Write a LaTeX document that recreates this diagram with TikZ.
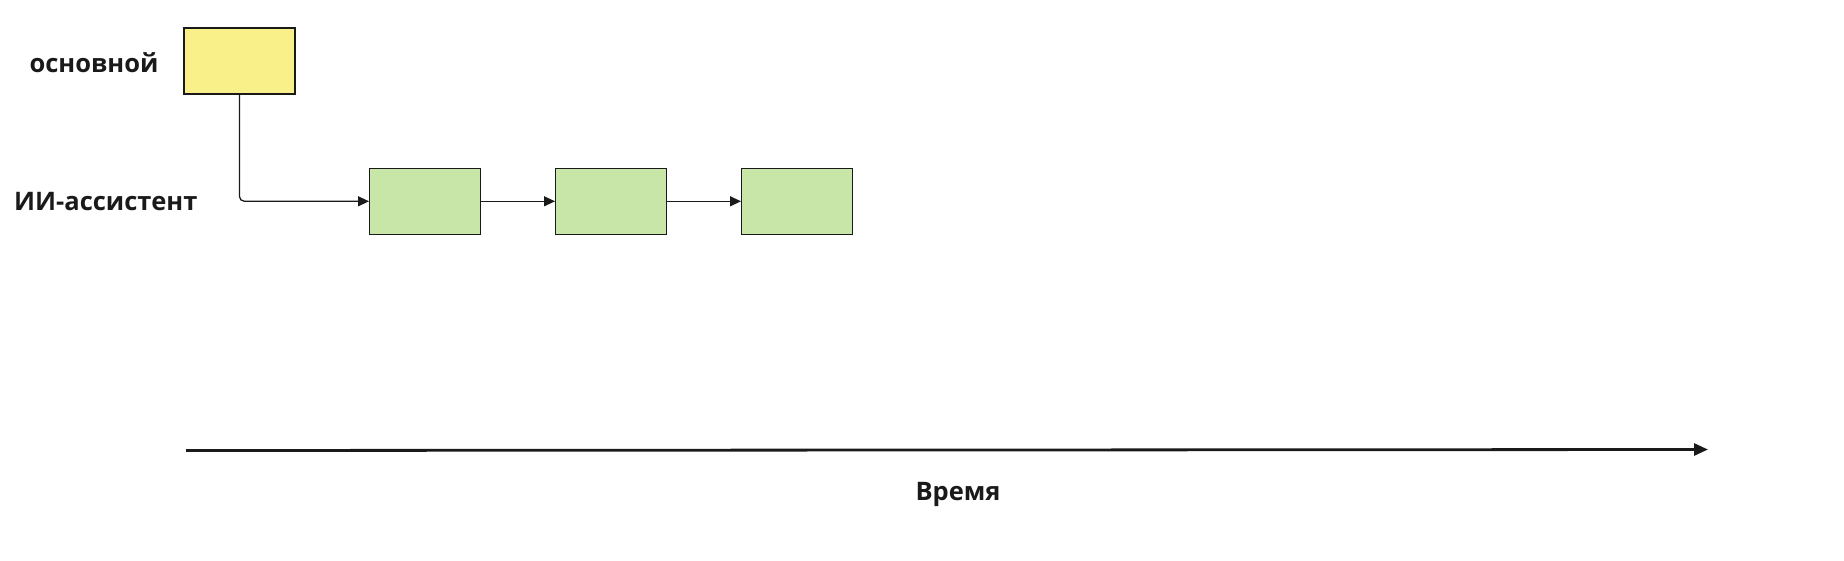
\documentclass[tikz,border=0pt]{standalone}
\usepackage{fontspec}
\setmainfont{Open Sans}
\usetikzlibrary{arrows.meta}
\definecolor{yel}{HTML}{FAF08A}
\definecolor{grn}{HTML}{C8E6A8}
\definecolor{ink}{HTML}{1A1A1A}
\tikzset{
  box/.style={draw=ink, line width=1.2pt, minimum width=111pt, minimum height=66pt, inner sep=0pt, anchor=north west},
  lbl/.style={font=\bfseries\fontsize{25.5}{30}\selectfont, text=ink, inner sep=0pt},
  conn/.style={draw=ink, line width=1.3pt, -{Triangle[length=11pt,width=10pt]}},
  axis/.style={draw=ink, line width=2.8pt, -{Triangle[length=14pt,width=12pt]}}
}
\begin{document}
\begin{tikzpicture}[x=1pt,y=-1pt]
\useasboundingbox (0,0) rectangle (1844,560);
\node[box, fill=yel] (main) at (183.3,27.3) {};
\node[box, fill=grn] (g1) at (369,167.7) {};
\node[box, fill=grn] (g2) at (555,167.7) {};
\node[box, fill=grn] (g3) at (741,167.7) {};
\node[lbl, anchor=west] (lmain) at (29.4,62.5) {основной};
\node[lbl, anchor=west] (lai) at (14,202) {ИИ-ассистент};
\draw[conn, rounded corners=5pt] (main.south) |- (g1.west);
\draw[conn] (g1.east) -- (g2.west);
\draw[conn] (g2.east) -- (g3.west);
\coordinate (t0) at (186,450.5);
\coordinate (t1) at (1708,449.5);
\draw[axis] (t0) -- (t1);
\node[lbl] (time) at (958,494) {Время};
\end{tikzpicture}
\end{document}
